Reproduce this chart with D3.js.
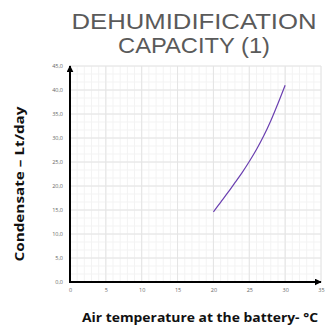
<!DOCTYPE html>
<html>
<head>
<meta charset="utf-8">
<script src="https://cdn.jsdelivr.net/npm/d3@7"></script>
<style>
  html, body { margin: 0; padding: 0; background: #fff; }
  svg { display: block; }
</style>
</head>
<body>
<svg id="chart" width="325" height="327"></svg>
<script>
// Condensate produced vs. air temperature at the battery
const temperatures = [20, 21, 22, 23, 24, 25, 26, 27, 28, 29, 30];
const condensate   = [14.6, 16.6, 18.6, 20.7, 22.8, 25.1, 27.6, 30.4, 33.6, 37.2, 41.0];
const xTicks = [0, 5, 10, 15, 20, 25, 30, 35];
const yTicks = [0, 5, 10, 15, 20, 25, 30, 35, 40, 45];
const titleLines = ["DEHUMIDIFICATION", "CAPACITY (1)"];
const xTitle = "Air temperature at the battery- °C";
const yTitle = "Condensate – Lt/day";

const svg = d3.select("#chart");

const x = d3.scaleLinear().domain([0, 35]).range([70, 321]);
const y = d3.scaleLinear().domain([0, 45]).range([282, 66]);

// minor grid
const grid = svg.append("g");
grid.selectAll("line.vx").data(d3.range(0, 35.01, 1)).join("line")
  .attr("x1", d => x(d)).attr("x2", d => x(d))
  .attr("y1", y(0)).attr("y2", y(45))
  .attr("stroke", "#f3f3f3").attr("stroke-width", 1);
grid.selectAll("line.hy").data(d3.range(0, 45.01, 5 / 3)).join("line")
  .attr("x1", x(0)).attr("x2", x(35))
  .attr("y1", d => y(d)).attr("y2", d => y(d))
  .attr("stroke", "#f3f3f3").attr("stroke-width", 1);
// major grid
grid.append("g").selectAll("line").data(xTicks).join("line")
  .attr("x1", d => x(d)).attr("x2", d => x(d))
  .attr("y1", y(0)).attr("y2", y(45))
  .attr("stroke", "#e4e4e4").attr("stroke-width", 1);
grid.append("g").selectAll("line").data(yTicks).join("line")
  .attr("x1", x(0)).attr("x2", x(35))
  .attr("y1", d => y(d)).attr("y2", d => y(d))
  .attr("stroke", "#e4e4e4").attr("stroke-width", 1);

// axes with tick labels
const fmt = d => d3.format(".1f")(d).replace(".", ",");
const yAxis = svg.append("g").attr("transform", `translate(${x(0) - 7},0)`)
  .call(d3.axisLeft(y).tickValues(yTicks).tickFormat(fmt).tickSize(0).tickPadding(0));
const xAxis = svg.append("g").attr("transform", `translate(0,${y(0) + 7})`)
  .call(d3.axisBottom(x).tickValues(xTicks).tickFormat(d3.format("d")).tickSize(0).tickPadding(0));
[yAxis, xAxis].forEach(g => {
  g.select(".domain").remove();
  g.selectAll("text").attr("fill", "#666").attr("font-size", 5.5)
    .attr("font-family", "Open Sans, sans-serif");
});
yAxis.selectAll("text").attr("dy", "0.35em");
xAxis.selectAll("text").attr("dy", "0.5em");

// axis lines with arrowheads
const defs = svg.append("defs");
defs.append("marker").attr("id", "arrow")
  .attr("viewBox", "0 0 10 10").attr("refX", 9).attr("refY", 5)
  .attr("markerWidth", 3.5).attr("markerHeight", 3.5).attr("orient", "auto")
  .append("path").attr("d", "M0,0 L10,5 L0,10 z").attr("fill", "#000");
svg.append("line")
  .attr("x1", x(0) - 1).attr("x2", x(35))
  .attr("y1", y(0)).attr("y2", y(0))
  .attr("stroke", "#000").attr("stroke-width", 2).attr("marker-end", "url(#arrow)");
svg.append("line")
  .attr("x1", x(0)).attr("x2", x(0))
  .attr("y1", y(0) + 1).attr("y2", y(45))
  .attr("stroke", "#000").attr("stroke-width", 2).attr("marker-end", "url(#arrow)");

// condensate curve
const pts = temperatures.map((t, i) => [t, condensate[i]]);
svg.append("path").datum(pts)
  .attr("d", d3.line().x(d => x(d[0])).y(d => y(d[1])).curve(d3.curveCatmullRom))
  .attr("fill", "none").attr("stroke", "#6a3fb0").attr("stroke-width", 1.2);

// two-line title
svg.append("g").selectAll("text").data(titleLines).join("text")
  .attr("x", 194).attr("y", (d, i) => 28.5 + i * 24.6)
  .attr("text-anchor", "middle")
  .attr("font-family", "Liberation Sans, Arial, sans-serif")
  .attr("font-size", 22).attr("fill", "#5a5a5a")
  .attr("textLength", (d, i) => i === 0 ? 245 : 152).attr("lengthAdjust", "spacingAndGlyphs")
  .text(d => d);

svg.append("text")
  .attr("x", 200).attr("y", 322).attr("text-anchor", "middle")
  .attr("font-family", "Open Sans, sans-serif").attr("font-weight", 700)
  .attr("font-size", 13).attr("fill", "#111")
  .attr("textLength", 236).attr("lengthAdjust", "spacingAndGlyphs")
  .text(xTitle);

svg.append("text")
  .attr("transform", "translate(24,184) rotate(-90)").attr("text-anchor", "middle")
  .attr("font-family", "Open Sans, sans-serif").attr("font-weight", 700)
  .attr("font-size", 12.5).attr("fill", "#111")
  .attr("textLength", 155).attr("lengthAdjust", "spacingAndGlyphs")
  .text(yTitle);
</script>
</body>
</html>
